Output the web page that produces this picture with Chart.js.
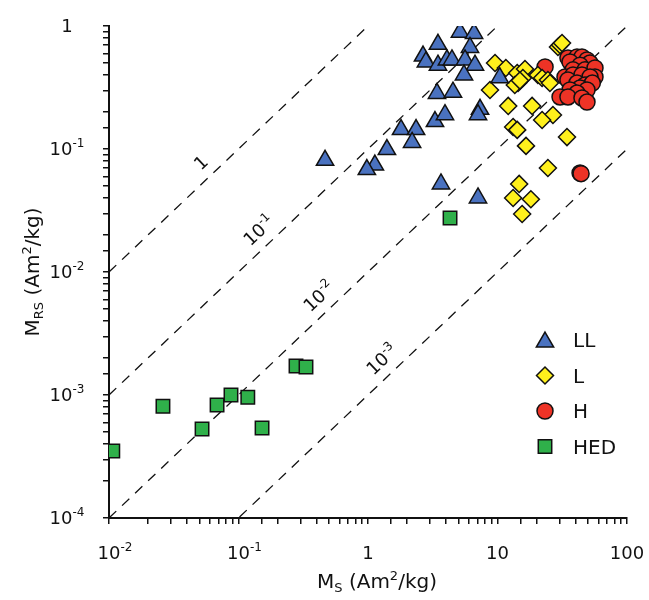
<!DOCTYPE html>
<html>
<head>
<meta charset="utf-8">
<script src="https://cdn.jsdelivr.net/npm/chart.js@4/dist/chart.umd.min.js"></script>
<style>
  html, body { margin: 0; padding: 0; background: #fff; }
</style>
</head>
<body>
<canvas id="chart" width="649" height="600"></canvas>
<script>
// Ms and Mrs per sample group (Am2/kg)
const llMs = [5.13, 6.59, 3.47, 6.13, 2.66, 2.80, 3.47, 4.07, 4.45, 5.61, 6.70, 5.51, 3.41, 4.53, 7.33, 7.07, 3.29, 3.93, 1.80, 2.35, 2.19, 1.40, 1.13, 0.98, 0.466, 3.66, 7.07, 10.4];
const llMrs = [0.89, 0.87, 0.71, 0.67, 0.57, 0.51, 0.48, 0.53, 0.53, 0.53, 0.48, 0.40, 0.283, 0.29, 0.21, 0.19, 0.167, 0.19, 0.144, 0.144, 0.113, 0.099, 0.074, 0.068, 0.081, 0.052, 0.040, 0.38];

const lMs = [29.3, 30.4, 31.5, 9.57, 11.6, 14.2, 16.3, 15.7, 14.4, 13.6, 14.9, 20.5, 22.1, 24.5, 25.4, 8.75, 12.1, 18.5, 26.8, 22.1, 13.2, 14.2, 34.4, 16.6, 24.5, 14.7, 13.2, 18.1, 15.5];
const lMrs = [0.675, 0.70, 0.727, 0.50, 0.456, 0.415, 0.447, 0.378, 0.344, 0.331, 0.36, 0.40, 0.378, 0.364, 0.344, 0.302, 0.224, 0.224, 0.189, 0.172, 0.151, 0.143, 0.125, 0.106, 0.070, 0.052, 0.040, 0.039, 0.0296];

const hMs = [23.3, 35.0, 41.1, 44.9, 49.1, 51.8, 36.3, 43.4, 38.3, 47.4, 56.6, 56.6, 33.2, 38.3, 44.9, 51.8, 35.0, 41.1, 47.4, 54.0, 43.4, 49.1, 36.3, 41.1, 30.4, 35.0, 44.9, 49.1, 43.4, 44.2];
const hMrs = [0.465, 0.55, 0.56, 0.56, 0.53, 0.50, 0.51, 0.48, 0.44, 0.44, 0.456, 0.385, 0.385, 0.40, 0.40, 0.385, 0.364, 0.344, 0.331, 0.344, 0.313, 0.302, 0.302, 0.285, 0.265, 0.265, 0.26, 0.241, 0.0638, 0.063];

const hedMs = [0.0107, 0.0261, 0.0523, 0.0683, 0.0875, 0.118, 0.152, 0.278, 0.332, 4.30];
const hedMrs = [0.00035, 0.00081, 0.00053, 0.00083, 0.0010, 0.00096, 0.00054, 0.00172, 0.00169, 0.0275];

// constant Mrs/Ms ratios drawn as dashed guides
const ratios = [1, 0.1, 0.01, 0.001];
const ratioLabelAt = [0.0624, 0.175, 0.509, 1.56]; // Ms where each label sits

const xRange = [0.01, 100];
const yRange = [0.0001, 1];

const FONT = '"DejaVu Sans", Verdana, sans-serif';

const groups = [
  { label: "LL", xs: llMs, ys: llMrs, color: "#4a72c0", style: "triangle", r: 10 },
  { label: "L", xs: lMs, ys: lMrs, color: "#fff01c", style: "rectRot", r: 8.5 },
  { label: "H", xs: hMs, ys: hMrs, color: "#ee3326", style: "circle", r: 8 },
  { label: "HED", xs: hedMs, ys: hedMrs, color: "#2fb04a", style: "rect", r: 9.5 },
];

const pts = (xs, ys) => xs.map((x, i) => ({ x, y: ys[i] }));

const datasets = groups.map((g, i) => ({
  label: g.label,
  data: pts(g.xs, g.ys),
  pointStyle: g.style,
  pointRadius: g.r,
  backgroundColor: g.color,
  borderColor: "#111",
  borderWidth: 1.5,
  order: i,
}));

ratios.forEach((r) => {
  datasets.push({
    type: "line",
    data: xRange.map((x) => ({ x, y: r * x })),
    borderColor: "#111",
    borderWidth: 1.3,
    borderDash: [10, 8],
    pointRadius: 0,
    fill: false,
    order: 10,
  });
});

// text with superscript / subscript pieces; kind 1 = sup, -1 = sub
function partFont(kind, size) {
  return (kind === 0 ? size : Math.round(size * 0.64)) + "px " + FONT;
}

function richWidth(ctx, parts, size) {
  let w = 0;
  parts.forEach((p) => {
    ctx.font = partFont(p[1], size);
    w += ctx.measureText(p[0]).width;
  });
  return w;
}

function drawRich(ctx, parts, x, y, size) {
  let cx = x;
  parts.forEach((p) => {
    ctx.font = partFont(p[1], size);
    const dy = p[1] === 1 ? -size * 0.42 : p[1] === -1 ? size * 0.22 : 0;
    ctx.fillText(p[0], cx, y + dy);
    cx += ctx.measureText(p[0]).width;
  });
}

function powLabel(e) {
  if (e === 0) return [["1", 0]];
  if (e === 1) return [["10", 0]];
  if (e === 2) return [["100", 0]];
  return [["10", 0], ["-" + -e, 1]];
}

const TICK = 18;
const TITLE = 20;

const decor = {
  id: "decor",
  afterDraw(chart) {
    const ctx = chart.ctx;
    const xs = chart.scales.x;
    const ys = chart.scales.y;
    const area = chart.chartArea;
    ctx.save();
    ctx.fillStyle = "#111";
    ctx.textBaseline = "alphabetic";

    // x tick labels, "10" centred on the tick
    for (let e = -2; e <= 2; e++) {
      const px = xs.getPixelForValue(Math.pow(10, e));
      const parts = powLabel(e);
      const baseW = richWidth(ctx, [parts[0]], TICK);
      drawRich(ctx, parts, px - baseW / 2, area.bottom + 41, TICK);
    }

    // y tick labels
    for (let e = -4; e <= 0; e++) {
      const py = ys.getPixelForValue(Math.pow(10, e));
      const parts = powLabel(e);
      const w = richWidth(ctx, parts, TICK);
      drawRich(ctx, parts, 67 - w / 2, py + 6, TICK);
    }

    // axis titles
    const xt = [["M", 0], ["S", -1], [" (Am", 0], ["2", 1], ["/kg)", 0]];
    const xtw = richWidth(ctx, xt, TITLE);
    drawRich(ctx, xt, (area.left + area.right) / 2 + 9 - xtw / 2, 588, TITLE);

    const yt = [["M", 0], ["RS", -1], [" (Am", 0], ["2", 1], ["/kg)", 0]];
    const ytw = richWidth(ctx, yt, TITLE);
    ctx.save();
    ctx.translate(39, (area.top + area.bottom) / 2);
    ctx.rotate(-Math.PI / 2);
    drawRich(ctx, yt, -ytw / 2, 0, TITLE);
    ctx.restore();

    // ratio labels along the dashed lines
    ratios.forEach((r, i) => {
      const a = ratioLabelAt[i];
      const px = xs.getPixelForValue(a);
      const py = ys.getPixelForValue(r * a);
      const ang = Math.atan2(
        ys.getPixelForValue(r * xRange[1]) - ys.getPixelForValue(r * xRange[0]),
        xs.getPixelForValue(xRange[1]) - xs.getPixelForValue(xRange[0])
      );
      const e = Math.round(Math.log10(r));
      const parts = e === 0 ? [["1", 0]] : [["10", 0], ["-" + -e, 1]];
      const w = richWidth(ctx, parts, TICK);
      ctx.save();
      ctx.translate(px, py);
      ctx.rotate(ang);
      drawRich(ctx, parts, -w / 2, -10, TICK);
      ctx.restore();
    });

    // legend in the lower right of the plot
    groups.forEach((g, i) => {
      const lx = area.right - 82;
      const ly = area.bottom - 178 + i * 35.5;
      ctx.fillStyle = g.color;
      ctx.strokeStyle = "#111";
      ctx.lineWidth = 1.5;
      Chart.helpers.drawPoint(ctx, { pointStyle: g.style, radius: g.r, rotation: 0, borderWidth: 1.5 }, lx, ly + (g.style === "triangle" ? 2 : 0));
      ctx.fillStyle = "#111";
      ctx.font = TITLE + "px " + FONT;
      ctx.fillText(g.label, lx + 28, ly + 7);
    });
    ctx.restore();
  },
};

const axisGrid = {
  drawOnChartArea: false,
  drawTicks: true,
  tickLength: 6,
  color: "#111",
  lineWidth: 1.5,
};

new Chart(document.getElementById("chart"), {
  type: "scatter",
  data: { datasets },
  options: {
    responsive: false,
    animation: false,
    layout: { padding: { top: 26, right: 22, left: 0, bottom: 0 } },
    plugins: { legend: { display: false }, tooltip: { enabled: false } },
    scales: {
      x: {
        type: "logarithmic",
        min: xRange[0],
        max: xRange[1],
        grid: axisGrid,
        border: { color: "#111", width: 2 },
        ticks: { display: false },
        afterFit: (s) => { s.height = 82; },
      },
      y: {
        type: "logarithmic",
        min: yRange[0],
        max: yRange[1],
        grid: axisGrid,
        border: { color: "#111", width: 2 },
        ticks: { display: false },
        afterFit: (s) => { s.width = 109; },
      },
    },
  },
  plugins: [decor],
});
</script>
</body>
</html>
